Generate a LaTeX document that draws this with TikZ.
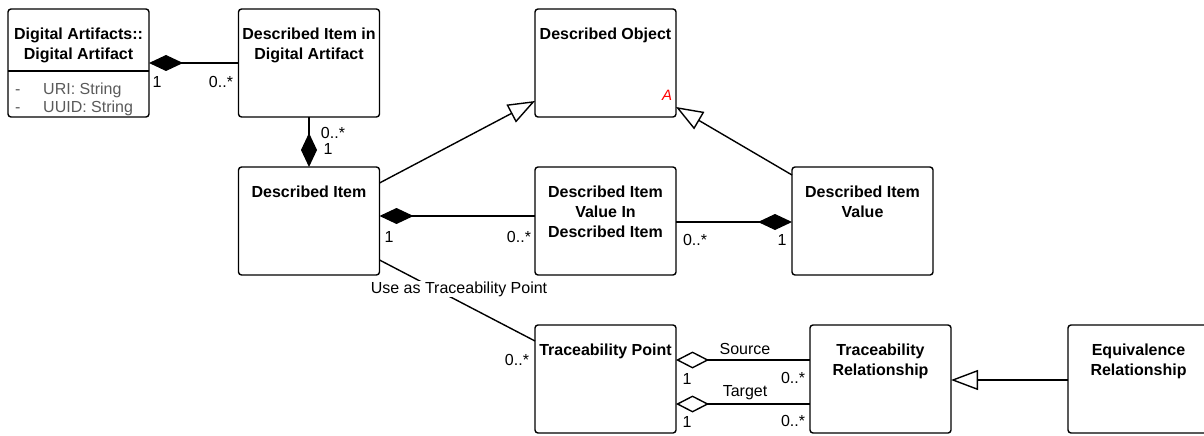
\documentclass[tikz,border=0pt]{standalone}
\usepackage{fontspec}
\setmainfont{Liberation Sans}
\usetikzlibrary{arrows.meta}
\definecolor{attrgray}{HTML}{5A5A5A}
\definecolor{abstractred}{HTML}{FF0000}
\begin{document}
\begin{tikzpicture}[x=1pt,y=-1pt,
  umlbox/.style={draw, line width=1.4pt, rounded corners=3pt, minimum width=141pt, minimum height=108pt, inner sep=0pt, outer sep=0pt},
  ttl/.style={font=\fontsize{16}{20}\selectfont\bfseries, align=center, anchor=north, inner sep=0pt},
  lbl/.style={font=\fontsize{16}{19}\selectfont, inner sep=0pt},
  attr/.style={font=\fontsize{16}{19}\selectfont, text=attrgray, anchor=base west, inner sep=0pt},
  conn/.style={line width=1.4pt},
  comp/.style={conn, {Diamond[length=34pt,width=16pt]}-},
  agg/.style={conn, {Diamond[open,length=33pt,width=17pt]}-},
  gen/.style={conn, -{Triangle[open,length=27pt,width=20pt,fill=white]}}
]
\useasboundingbox (0,0) rectangle (1204,436);

% boxes
\node[umlbox] (da) at (78.5,63) {};
\node[umlbox] (dida) at (309,63) {};
\node[umlbox] (do) at (605.5,63) {};
\node[umlbox] (di) at (309,221) {};
\node[umlbox] (dividi) at (605.5,221) {};
\node[umlbox] (div) at (862.5,221) {};
\node[umlbox] (tp) at (605.5,379) {};
\node[umlbox] (tr) at (880.5,379) {};
\node[umlbox] (er) at (1138.5,379) {};

% titles
\node[ttl] (da-t) at ([yshift=-19pt]da.north) {Digital Artifacts::\\Digital Artifact};
\node[ttl] (dida-t) at ([yshift=-19pt]dida.north) {Described Item in\\Digital Artifact};
\node[ttl] (do-t) at ([yshift=-19pt]do.north) {Described Object};
\node[ttl] (di-t) at ([yshift=-19pt]di.north) {Described Item};
\node[ttl] (dividi-t) at ([yshift=-19pt]dividi.north) {Described Item\\Value In\\Described Item};
\node[ttl] (div-t) at ([yshift=-19pt]div.north) {Described Item\\Value};
\node[ttl] (tp-t) at ([yshift=-19pt]tp.north) {Traceability Point};
\node[ttl] (tr-t) at ([yshift=-19pt]tr.north) {Traceability\\Relationship};
\node[ttl] (er-t) at ([yshift=-19pt]er.north) {Equivalence\\Relationship};

% attributes of Digital Artifact
\draw[line width=1.4pt] ([yshift=-8pt]da.west) -- ([yshift=-8pt]da.east);
\node[attr] (da-a1d) at (15,94) {-};
\node[attr] (da-a1) at (43,94) {URI: String};
\node[attr] (da-a2d) at (15,112) {-};
\node[attr] (da-a2) at (43,112) {UUID: String};

% abstract marker
\node[font=\fontsize{15}{18}\selectfont\itshape, text=abstractred, inner sep=0pt] (do-abs) at (667,95) {A};

% connectors
\draw[comp] (da.east) -- (dida.west);
\node[lbl] (m1) at (157,82) {1};
\node[lbl] (m2) at (221,82) {0..*};

\draw[comp] (di.north) -- (dida.south);
\node[lbl] (m3) at (333,133) {0..*};
\node[lbl] (m4) at (328,149) {1};

\draw[gen] ([yshift=38pt]di.east) -- ([yshift=-38pt]do.west);
\draw[gen] ([yshift=-8pt]div.north west) -- ([yshift=10pt]do.south east);

\draw[comp] ([yshift=5pt]di.east) -- ([yshift=5pt]dividi.west);
\node[lbl] (m5) at (389,237) {1};
\node[lbl] (m6) at (519,237) {0..*};

\draw[comp] ([yshift=-1pt]div.west) -- ([yshift=-1pt]dividi.east);
\node[lbl] (m7) at (695,240) {0..*};
\node[lbl] (m8) at (782,240) {1};

\draw[conn] ([yshift=15pt]di.south east) -- ([yshift=-16pt]tp.north west);
\node[lbl, fill=white, inner sep=1pt] (utp) at (459,289) {Use as Traceability Point};
\node[lbl] (m9) at (517,360) {0..*};

\draw[agg] ([yshift=19pt]tp.east) -- ([yshift=19pt]tr.west);
\node[lbl] (src) at (745,349) {Source};
\node[lbl] (m10) at (687,379) {1};
\node[lbl] (m11) at (793,378) {0..*};

\draw[agg] ([yshift=-25pt]tp.east) -- ([yshift=-25pt]tr.west);
\node[lbl] (tgt) at (745,393) {Target};
\node[lbl] (m12) at (687,422) {1};
\node[lbl] (m13) at (793,421) {0..*};

\draw[gen] ([yshift=-1pt]er.west) -- ([yshift=-1pt]tr.east);
\end{tikzpicture}
\end{document}
